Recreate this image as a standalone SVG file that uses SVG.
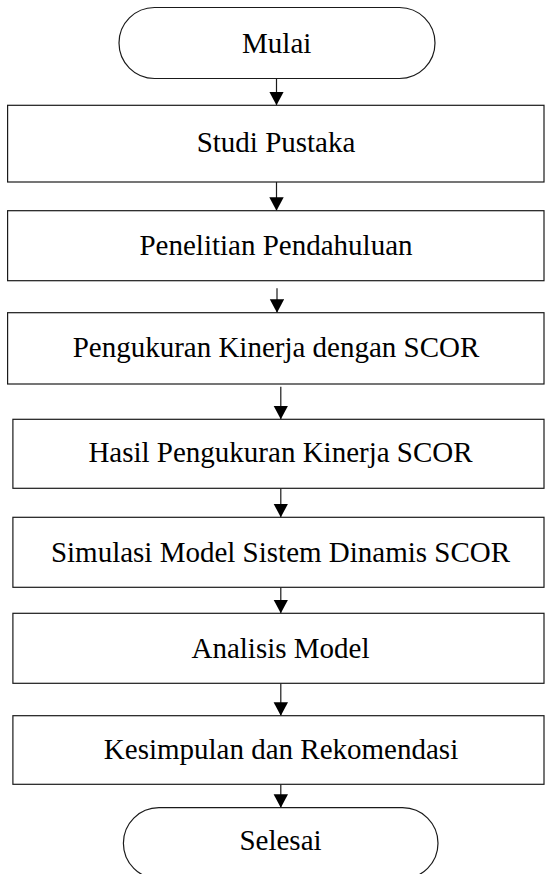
<svg xmlns="http://www.w3.org/2000/svg" width="545" height="874" viewBox="0 0 545 874">
<style>
.n{fill:#fff;stroke:#1a1a1a;stroke-width:1.2}
.t{font-family:"Liberation Serif","Times New Roman",serif;font-size:29px;fill:#000;text-anchor:middle}
.c{stroke:#1a1a1a;stroke-width:1.2;fill:none}
</style>
<defs>
<marker id="ah" markerUnits="userSpaceOnUse" markerWidth="14" markerHeight="15" refX="13.5" refY="7.2" orient="auto">
<path d="M0,0 L13.5,7.2 L0,14.4 Z" fill="#000"/>
</marker>
</defs>
<rect width="545" height="874" fill="#fff"/>
<g id="connectors">
<line class="c" x1="276.5" y1="78.5" x2="276.5" y2="105.3" marker-end="url(#ah)"/>
<line class="c" x1="276.5" y1="182" x2="276.5" y2="210.7" marker-end="url(#ah)"/>
<line class="c" x1="277" y1="288.3" x2="277" y2="312.7" marker-end="url(#ah)"/>
<line class="c" x1="280.8" y1="386.7" x2="280.8" y2="419.3" marker-end="url(#ah)"/>
<line class="c" x1="280.8" y1="488.3" x2="280.8" y2="517.3" marker-end="url(#ah)"/>
<line class="c" x1="280.8" y1="587.3" x2="280.8" y2="613.3" marker-end="url(#ah)"/>
<line class="c" x1="280.8" y1="683.3" x2="280.8" y2="715.7" marker-end="url(#ah)"/>
<line class="c" x1="280.8" y1="784.3" x2="280.8" y2="807.7" marker-end="url(#ah)"/>
</g>
<g id="mulai">
<rect class="n" x="119" y="7.5" width="316" height="71" rx="35.5" ry="35.5"/>
<text class="t" x="276.7" y="52.5">Mulai</text>
</g>
<g id="studi-pustaka">
<rect class="n" x="7.6" y="105.3" width="536.4" height="76.7"/>
<text class="t" x="276" y="152">Studi Pustaka</text>
</g>
<g id="penelitian-pendahuluan">
<rect class="n" x="7.6" y="210.7" width="536.4" height="70"/>
<text class="t" x="276" y="254.5">Penelitian Pendahuluan</text>
</g>
<g id="pengukuran-kinerja">
<rect class="n" x="7.6" y="312.7" width="536.4" height="71.3"/>
<text class="t" x="276" y="357">Pengukuran Kinerja dengan SCOR</text>
</g>
<g id="hasil-pengukuran">
<rect class="n" x="12.9" y="419.3" width="531.1" height="69"/>
<text class="t" x="280.5" y="462">Hasil Pengukuran Kinerja SCOR</text>
</g>
<g id="simulasi-model">
<rect class="n" x="12.9" y="517.3" width="531.1" height="70"/>
<text class="t" x="280.5" y="561.7">Simulasi Model Sistem Dinamis SCOR</text>
</g>
<g id="analisis-model">
<rect class="n" x="12.9" y="613.3" width="531.1" height="70"/>
<text class="t" x="280.5" y="657.5">Analisis Model</text>
</g>
<g id="kesimpulan">
<rect class="n" x="12.9" y="715.7" width="531.1" height="68.6"/>
<text class="t" x="281" y="758.5">Kesimpulan dan Rekomendasi</text>
</g>
<g id="selesai">
<rect class="n" x="123.4" y="807.7" width="314.6" height="71" rx="35.5" ry="35.5"/>
<text class="t" x="280.5" y="850">Selesai</text>
</g>
</svg>
